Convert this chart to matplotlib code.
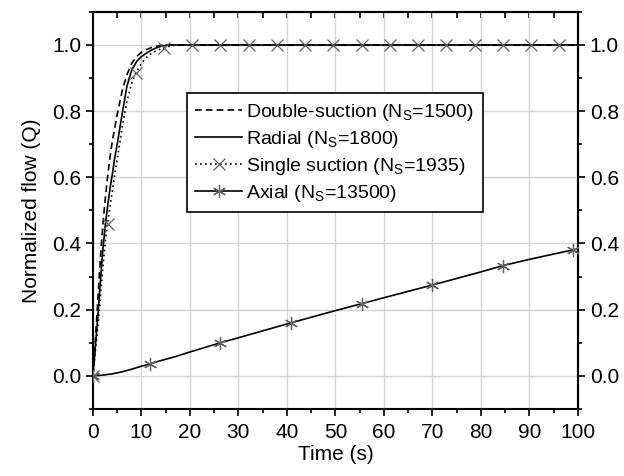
import matplotlib.pyplot as plt
import numpy as np

plt.rcParams["font.family"] = ["Liberation Sans", "DejaVu Sans"]
plt.rcParams["mathtext.fontset"] = "custom"
plt.rcParams["mathtext.rm"] = "Liberation Sans"

# double-suction pump (dashed)
t_double = [0, 0.5, 1, 1.5, 2, 2.5, 3, 3.5, 4, 5, 6, 7, 8, 9, 10, 11, 12, 13, 14, 15, 100]
q_double = [0, 0.11, 0.23, 0.35, 0.45, 0.53, 0.60, 0.66, 0.71, 0.79, 0.86, 0.91, 0.945,
            0.965, 0.978, 0.986, 0.992, 0.996, 0.999, 1.0, 1.0]

# radial pump (solid)
t_radial = [0, 0.5, 1, 1.5, 2, 2.5, 3, 3.5, 4, 4.5, 5, 6, 7, 8, 9, 10, 11, 12, 13, 14, 15, 16, 100]
q_radial = [0, 0.09, 0.18, 0.28, 0.375, 0.45, 0.51, 0.565, 0.61, 0.66, 0.70, 0.79, 0.875,
            0.925, 0.95, 0.965, 0.975, 0.984, 0.991, 0.996, 0.999, 1.0, 1.0]

# single suction pump (dotted)
t_single = [0, 0.5, 1, 1.5, 2, 2.5, 3, 3.5, 4, 4.5, 5, 5.5, 6, 6.5, 7, 8, 8.8, 10, 11, 12, 13,
            14, 14.6, 15, 16, 17, 100]
q_single = [0, 0.075, 0.15, 0.23, 0.32, 0.40, 0.46, 0.51, 0.56, 0.61, 0.655, 0.70, 0.75, 0.79,
            0.83, 0.885, 0.915, 0.945, 0.962, 0.974, 0.982, 0.988, 0.990, 0.992, 0.997, 1.0, 1.0]
t_single_mk = [0, 3.0, 8.8, 14.6, 20.5, 26.3, 32.1, 37.9, 43.8, 49.6, 55.4, 61.2, 67.1, 72.9,
               78.7, 84.5, 90.4, 96.2]
q_single_mk = [0, 0.46, 0.915, 0.99, 1, 1, 1, 1, 1, 1, 1, 1, 1, 1, 1, 1, 1, 1]

# axial pump
t_axial = [0, 2, 4, 6, 8, 10, 11.7, 14, 17, 20, 26.3, 30, 40.8, 50, 55.4, 60, 69.9, 80, 84.5,
           90, 99.1, 100]
q_axial = [0, 0.002, 0.006, 0.012, 0.02, 0.029, 0.036, 0.046, 0.058, 0.072, 0.100, 0.115, 0.160,
           0.197, 0.218, 0.236, 0.274, 0.314, 0.333, 0.352, 0.381, 0.384]
t_axial_mk = [0, 11.7, 26.3, 40.8, 55.4, 69.9, 84.5, 99.1]
q_axial_mk = [0, 0.036, 0.100, 0.160, 0.218, 0.274, 0.333, 0.381]

labels = ["Double-suction (N$_\\mathregular{S}$=1500)",
          "Radial (N$_\\mathregular{S}$=1800)",
          "Single suction (N$_\\mathregular{S}$=1935)",
          "Axial (N$_\\mathregular{S}$=13500)"]

fig = plt.figure(figsize=(6.24, 4.76), dpi=100)
ax = fig.add_axes([0.149, 0.141, 0.777, 0.834])

lw = 1.2
mk_col = "#606060"
ax.plot(t_double, q_double, color="black", lw=lw, ls=(0, (4, 2.5)), zorder=3)
ax.plot(t_radial, q_radial, color="black", lw=lw, zorder=3)
ax.plot(t_single, q_single, color="black", lw=lw, ls=(0, (1, 2)), zorder=3)
ax.plot(t_single_mk, q_single_mk, ls="none", marker="x", ms=8.5, mec=mk_col, mew=0.9, zorder=4)
ax.plot(t_axial, q_axial, color="black", lw=lw, zorder=3)
ax.plot(t_axial_mk, q_axial_mk, ls="none", marker=(6, 2, 0), ms=9.5, mec=mk_col, mew=0.9, zorder=4)

# legend proxies (line + marker)
h1, = ax.plot([], [], color="black", lw=lw, ls=(0, (4, 2.5)))
h2, = ax.plot([], [], color="black", lw=lw)
h3, = ax.plot([], [], color="black", lw=lw, ls=(0, (1, 2)), marker="x", ms=8.5, mec=mk_col, mew=0.9)
h4, = ax.plot([], [], color="black", lw=lw, marker=(6, 2, 0), ms=9.5, mec=mk_col, mew=0.9)
leg = ax.legend([h1, h2, h3, h4], labels, loc="upper left", bbox_to_anchor=(0.193, 0.795),
                borderaxespad=0, fontsize=14, handlelength=2.4, handletextpad=0.2,
                labelspacing=0.3, fancybox=False, framealpha=1, edgecolor="black",
                borderpad=0.45)
leg.get_frame().set_linewidth(1.2)

ax.set_xlim(0, 100)
ax.set_ylim(-0.1, 1.1)
ax.set_xticks(np.arange(0, 101, 10))
ax.set_xticks(np.arange(0, 101, 5), minor=True)
ax.set_yticks(np.arange(0, 1.01, 0.2))
ax.set_yticks(np.arange(-0.1, 1.11, 0.1), minor=True)
ax.yaxis.set_major_formatter(plt.FormatStrFormatter("%.1f"))
ax.grid(True, which="major", color="#d4d4d4", lw=1.0, zorder=0)
ax.set_axisbelow(True)

ax.tick_params(which="both", direction="out", labelsize=15, width=1.2, colors="black")
ax.tick_params(which="major", length=5)
ax.tick_params(which="minor", length=3)
ax.tick_params(axis="x", pad=5)
for s in ax.spines.values():
    s.set_linewidth(1.5)

top = ax.secondary_xaxis("top")
top.set_xticks(np.arange(0, 101, 10))
top.set_xticks(np.arange(0, 101, 5), minor=True)
top.tick_params(which="both", direction="in", length=4, width=1.2, labeltop=False)
top.spines["top"].set_linewidth(1.5)

right = ax.secondary_yaxis("right")
right.set_yticks(np.arange(0, 1.01, 0.2))
right.set_yticks(np.arange(-0.1, 1.11, 0.1), minor=True)
right.yaxis.set_major_formatter(plt.FormatStrFormatter("%.1f"))
right.tick_params(which="both", direction="out", labelsize=15, width=1.2)
right.tick_params(which="major", length=5)
right.tick_params(which="minor", length=3)
right.spines["right"].set_linewidth(1.5)

ax.set_xlabel("Time (s)", fontsize=15, labelpad=2)
ax.set_ylabel("Normalized flow (Q)", fontsize=15, labelpad=8)

fig.savefig("out.png", dpi=100)
